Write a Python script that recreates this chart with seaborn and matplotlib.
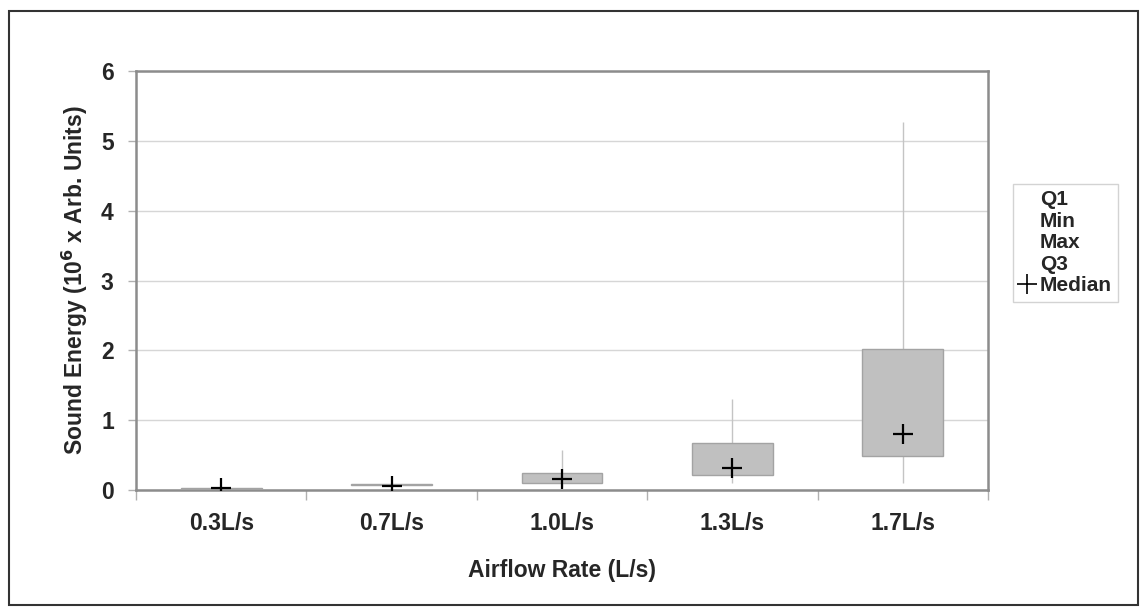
import numpy as np
import pandas as pd
import matplotlib
matplotlib.use("Agg")
import matplotlib.pyplot as plt
from matplotlib.lines import Line2D
from matplotlib.patches import Rectangle
import seaborn as sns

# Five-number summaries of sound energy per airflow rate (10^6 x arb. units)
categories = ["0.3L/s", "0.7L/s", "1.0L/s", "1.3L/s", "1.7L/s"]
q1_vals = [0.01, 0.065, 0.10, 0.21, 0.49]
q3_vals = [0.03, 0.08, 0.24, 0.68, 2.02]
min_vals = [0.00, 0.05, 0.05, 0.10, 0.10]
max_vals = [0.04, 0.09, 0.57, 1.30, 5.27]
median_vals = [0.025, 0.06, 0.16, 0.31, 0.80]
y_ticks = [0, 1, 2, 3, 4, 5, 6]
legend_labels = ["Q1", "Min", "Max", "Q3", "Median"]

df = pd.DataFrame({
    "rate": categories,
    "q1": q1_vals,
    "q3": q3_vals,
    "lo": min_vals,
    "hi": max_vals,
    "median": median_vals,
})
df["iqr"] = df["q3"] - df["q1"]

sns.set_theme(style="white")
plt.rcParams["font.family"] = ["Liberation Sans", "DejaVu Sans"]
plt.rcParams["font.weight"] = "bold"

W, H = 1147, 615
fig = plt.figure(figsize=(W / 100, H / 100), dpi=100)
fig.patch.set_facecolor("white")
ax = fig.add_axes([136 / W, 1 - 490 / H, (988 - 136) / W, (490 - 71) / H])

# whiskers from min to max
pos = np.arange(len(categories))
ax.vlines(pos, df["lo"], df["hi"], colors="#c4c4c4", linewidth=1.0, zorder=2)

# interquartile boxes
sns.barplot(data=df, x="rate", y="iqr", bottom=df["q1"].to_numpy(), order=categories,
            color="#c0c0c0", saturation=1, width=0.475, errorbar=None,
            edgecolor="#a3a3a3", linewidth=1.0, zorder=3, ax=ax)

# medians
sns.pointplot(data=df, x="rate", y="median", order=categories, color="black",
              markers="+", linestyles="none", errorbar=None,
              markersize=15, markeredgewidth=1.6, zorder=4, ax=ax)

ax.set_xlim(-0.5, len(categories) - 0.5)
ax.set_ylim(0, 6)
ax.set_yticks(y_ticks)
ax.set_yticklabels([str(t) for t in y_ticks])
ax.set_xticks(pos)
ax.set_xticklabels(categories)
ax.set_xticks(np.arange(len(categories) + 1) - 0.5, minor=True)

ax.yaxis.grid(True, color="#d6d6d6", linewidth=1.0)
ax.xaxis.grid(False)
ax.set_axisbelow(True)

for s in ax.spines.values():
    s.set_visible(True)
    s.set_color("#8c8c8c")
    s.set_linewidth(1.8)

ax.tick_params(axis="x", which="major", length=0, pad=16, labelsize=16.5)
ax.tick_params(axis="x", which="minor", bottom=True, length=7, width=1, color="#b0b0b0")
ax.tick_params(axis="y", which="major", left=True, length=6, width=1, color="#b0b0b0",
               pad=10, labelsize=16.5)
for lab in ax.get_xticklabels() + ax.get_yticklabels():
    lab.set_fontweight("bold")

ax.set_xlabel("Airflow Rate (L/s)", fontsize=16.5, fontweight="bold", labelpad=17)
ax.set_ylabel("Sound Energy (10$^{\\mathbf{6}}$ x Arb. Units)", fontsize=16.5,
              fontweight="bold", labelpad=8)

# legend: quartile/extreme entries carry no marker, median shows the cross
handles = [Line2D([], [], linestyle="none") for _ in legend_labels[:-1]]
handles.append(Line2D([], [], linestyle="none", marker="+", color="black",
                      markersize=14, markeredgewidth=1.2))
leg = fig.legend(handles, legend_labels, loc="upper left",
                 bbox_to_anchor=(1013 / W, 1 - 184 / H), frameon=True, fancybox=False,
                 handlelength=0.75, handletextpad=0.25, labelspacing=0.12, borderpad=0.3,
                 borderaxespad=0, prop={"size": 15, "weight": "bold"})
leg.get_frame().set_edgecolor("#c8c8c8")
leg.get_frame().set_linewidth(1.0)

# outer frame around the whole figure
fig.patches.append(Rectangle((9 / W, 1 - 605 / H), (1138 - 9) / W, (605 - 11) / H,
                             transform=fig.transFigure, fill=False,
                             edgecolor="#333333", linewidth=1.5))

fig.savefig("out.png", dpi=100)
